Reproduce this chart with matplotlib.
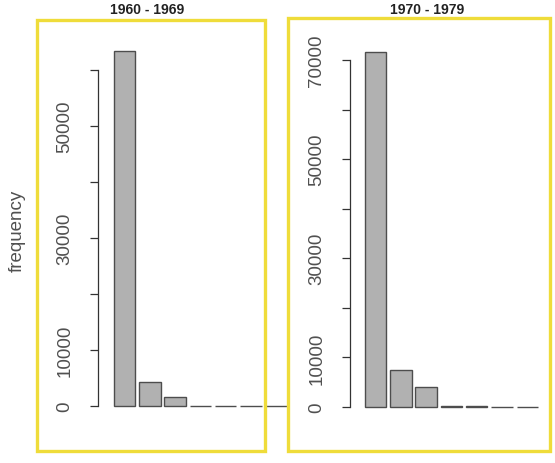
import matplotlib
matplotlib.use('Agg')
import matplotlib.pyplot as plt
from matplotlib.patches import Rectangle
import numpy as np

plt.rcParams.update({
    'font.family': ['Liberation Sans', 'DejaVu Sans'],
    'figure.dpi': 100,
})

# bar counts per decade
counts_60s = [63450, 4280, 1600, 0, 0, 0, 0]
counts_70s = [71600, 7500, 4100, 220, 200, 40, 30]
ticks_60s = [0, 10000, 20000, 30000, 40000, 50000, 60000]
ticks_70s = [0, 10000, 20000, 30000, 40000, 50000, 60000, 70000]
shown_60s = ['0', '10000', '', '30000', '', '50000', '']
shown_70s = ['0', '10000', '', '30000', '', '50000', '', '70000']

W, H = 555, 464
BAR_FILL = '#b1b1b1'
BAR_EDGE = '#4d4d4d'
LABEL_COL = '#505050'
YELLOW = '#efdc3a'

fig = plt.figure(figsize=(W / 100, H / 100))


def px_axes(left, right, top, bottom):
    return fig.add_axes([left / W, 1 - bottom / H, (right - left) / W, (bottom - top) / H])


def decade_panel(ax, counts, ticks, shown, xlim, ylim):
    x = np.arange(len(counts))
    ax.bar(x, counts, width=0.85, color=BAR_FILL, edgecolor=BAR_EDGE, linewidth=1.0)
    ax.set_xlim(*xlim)
    ax.set_ylim(*ylim)
    ax.patch.set_alpha(0)
    for s in ['top', 'right', 'bottom']:
        ax.spines[s].set_visible(False)
    ax.spines['left'].set_bounds(ticks[0], ticks[-1])
    ax.spines['left'].set_color('#333333')
    ax.spines['left'].set_linewidth(0.9)
    ax.set_xticks([])
    ax.set_yticks(ticks)
    ax.set_yticklabels(shown, rotation=90, va='center', fontsize=13.5, color=LABEL_COL)
    ax.tick_params(axis='y', direction='out', length=5.5, width=0.9, color='#333333', pad=12)


ax1 = px_axes(98, 300, 45, 422)
decade_panel(ax1, counts_60s, ticks_60s, shown_60s, (-1.047, 6.94), (-2676, 64640))

ax2 = px_axes(349.5, 545, 45, 423)
decade_panel(ax2, counts_70s, ticks_70s, shown_70s, (-1.028, 6.70), (-3026, 73230))

fig.text(147 / W, 1 - 10.5 / H, '1960 - 1969', ha='center', va='center',
         fontsize=10, fontweight='bold', color='#222222')
fig.text(427 / W, 1 - 10.5 / H, '1970 - 1979', ha='center', va='center',
         fontsize=10, fontweight='bold', color='#222222')
fig.text(17 / W, 1 - 231 / H, 'frequency', ha='center', va='center', rotation=90,
         fontsize=13.5, color=LABEL_COL)

# yellow highlight boxes
for (l, t, r, b) in [(37, 21, 265, 452), (288, 19, 550, 452)]:
    fig.patches.append(Rectangle((l / W, 1 - b / H), (r - l) / W, (b - t) / H,
                                 transform=fig.transFigure, fill=False,
                                 edgecolor=YELLOW, linewidth=2.4, zorder=10))

fig.savefig('out.png', dpi=100)
